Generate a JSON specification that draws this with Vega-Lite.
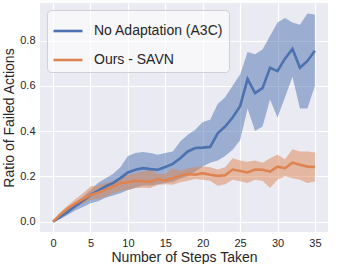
{
  "$schema": "https://vega.github.io/schema/vega-lite/v6.json",
  "width": 288,
  "height": 229,
  "autosize": {"type": "none"},
  "padding": {"left": 40, "top": 3, "right": 17, "bottom": 32},
  "background": "white",
  "config": {
    "font": "Liberation Sans",
    "view": {"fill": "#EAEAF2", "stroke": null},
    "axis": {
      "domain": false,
      "ticks": false,
      "grid": true,
      "gridColor": "white",
      "gridWidth": 1.2,
      "labelFont": "Liberation Sans",
      "labelFontSize": 11,
      "labelColor": "#262626",
      "titleFont": "Liberation Sans",
      "titleFontSize": 14,
      "titleFontWeight": "normal",
      "titleColor": "#262626",
      "labelPadding": 5
    },
    "legend": {
      "labelFont": "Liberation Sans",
      "labelFontSize": 14,
      "labelColor": "#262626"
    }
  },
  "data": {
    "values": [
      {"step": 0, "series": "No Adaptation (A3C)", "mean": 0, "lo": 0, "hi": 0},
      {"step": 1, "series": "No Adaptation (A3C)", "mean": 0.022, "lo": 0.012, "hi": 0.032},
      {"step": 2, "series": "No Adaptation (A3C)", "mean": 0.044, "lo": 0.03, "hi": 0.06},
      {"step": 3, "series": "No Adaptation (A3C)", "mean": 0.069, "lo": 0.05, "hi": 0.085},
      {"step": 4, "series": "No Adaptation (A3C)", "mean": 0.092, "lo": 0.065, "hi": 0.11},
      {"step": 5, "series": "No Adaptation (A3C)", "mean": 0.118, "lo": 0.081, "hi": 0.14},
      {"step": 6, "series": "No Adaptation (A3C)", "mean": 0.136, "lo": 0.09, "hi": 0.17},
      {"step": 7, "series": "No Adaptation (A3C)", "mean": 0.155, "lo": 0.105, "hi": 0.19},
      {"step": 8, "series": "No Adaptation (A3C)", "mean": 0.17, "lo": 0.115, "hi": 0.21},
      {"step": 9, "series": "No Adaptation (A3C)", "mean": 0.192, "lo": 0.125, "hi": 0.24},
      {"step": 10, "series": "No Adaptation (A3C)", "mean": 0.217, "lo": 0.14, "hi": 0.29},
      {"step": 11, "series": "No Adaptation (A3C)", "mean": 0.229, "lo": 0.15, "hi": 0.303},
      {"step": 12, "series": "No Adaptation (A3C)", "mean": 0.236, "lo": 0.16, "hi": 0.307},
      {"step": 13, "series": "No Adaptation (A3C)", "mean": 0.232, "lo": 0.16, "hi": 0.303},
      {"step": 14, "series": "No Adaptation (A3C)", "mean": 0.229, "lo": 0.165, "hi": 0.295},
      {"step": 15, "series": "No Adaptation (A3C)", "mean": 0.241, "lo": 0.17, "hi": 0.303},
      {"step": 16, "series": "No Adaptation (A3C)", "mean": 0.255, "lo": 0.175, "hi": 0.31},
      {"step": 17, "series": "No Adaptation (A3C)", "mean": 0.28, "lo": 0.19, "hi": 0.354},
      {"step": 18, "series": "No Adaptation (A3C)", "mean": 0.31, "lo": 0.2, "hi": 0.384},
      {"step": 19, "series": "No Adaptation (A3C)", "mean": 0.325, "lo": 0.22, "hi": 0.406},
      {"step": 20, "series": "No Adaptation (A3C)", "mean": 0.327, "lo": 0.243, "hi": 0.44},
      {"step": 21, "series": "No Adaptation (A3C)", "mean": 0.33, "lo": 0.26, "hi": 0.45},
      {"step": 22, "series": "No Adaptation (A3C)", "mean": 0.39, "lo": 0.27, "hi": 0.52},
      {"step": 23, "series": "No Adaptation (A3C)", "mean": 0.42, "lo": 0.29, "hi": 0.55},
      {"step": 24, "series": "No Adaptation (A3C)", "mean": 0.46, "lo": 0.317, "hi": 0.6},
      {"step": 25, "series": "No Adaptation (A3C)", "mean": 0.51, "lo": 0.36, "hi": 0.65},
      {"step": 26, "series": "No Adaptation (A3C)", "mean": 0.63, "lo": 0.5, "hi": 0.75},
      {"step": 27, "series": "No Adaptation (A3C)", "mean": 0.568, "lo": 0.4, "hi": 0.74},
      {"step": 28, "series": "No Adaptation (A3C)", "mean": 0.59, "lo": 0.42, "hi": 0.76},
      {"step": 29, "series": "No Adaptation (A3C)", "mean": 0.68, "lo": 0.54, "hi": 0.82},
      {"step": 30, "series": "No Adaptation (A3C)", "mean": 0.665, "lo": 0.46, "hi": 0.88},
      {"step": 31, "series": "No Adaptation (A3C)", "mean": 0.72, "lo": 0.55, "hi": 0.9},
      {"step": 32, "series": "No Adaptation (A3C)", "mean": 0.763, "lo": 0.64, "hi": 0.88},
      {"step": 33, "series": "No Adaptation (A3C)", "mean": 0.68, "lo": 0.5, "hi": 0.87},
      {"step": 34, "series": "No Adaptation (A3C)", "mean": 0.71, "lo": 0.5, "hi": 0.92},
      {"step": 35, "series": "No Adaptation (A3C)", "mean": 0.755, "lo": 0.6, "hi": 0.915},
      {"step": 0, "series": "Ours - SAVN", "mean": 0, "lo": 0, "hi": 0},
      {"step": 1, "series": "Ours - SAVN", "mean": 0.033, "lo": 0.025, "hi": 0.042},
      {"step": 2, "series": "Ours - SAVN", "mean": 0.059, "lo": 0.045, "hi": 0.072},
      {"step": 3, "series": "Ours - SAVN", "mean": 0.081, "lo": 0.065, "hi": 0.1},
      {"step": 4, "series": "Ours - SAVN", "mean": 0.099, "lo": 0.08, "hi": 0.125},
      {"step": 5, "series": "Ours - SAVN", "mean": 0.118, "lo": 0.096, "hi": 0.155},
      {"step": 6, "series": "Ours - SAVN", "mean": 0.128, "lo": 0.1, "hi": 0.16},
      {"step": 7, "series": "Ours - SAVN", "mean": 0.14, "lo": 0.11, "hi": 0.17},
      {"step": 8, "series": "Ours - SAVN", "mean": 0.155, "lo": 0.125, "hi": 0.18},
      {"step": 9, "series": "Ours - SAVN", "mean": 0.17, "lo": 0.135, "hi": 0.195},
      {"step": 10, "series": "Ours - SAVN", "mean": 0.174, "lo": 0.14, "hi": 0.207},
      {"step": 11, "series": "Ours - SAVN", "mean": 0.18, "lo": 0.148, "hi": 0.214},
      {"step": 12, "series": "Ours - SAVN", "mean": 0.178, "lo": 0.15, "hi": 0.221},
      {"step": 13, "series": "Ours - SAVN", "mean": 0.175, "lo": 0.148, "hi": 0.229},
      {"step": 14, "series": "Ours - SAVN", "mean": 0.188, "lo": 0.162, "hi": 0.21},
      {"step": 15, "series": "Ours - SAVN", "mean": 0.182, "lo": 0.165, "hi": 0.21},
      {"step": 16, "series": "Ours - SAVN", "mean": 0.192, "lo": 0.163, "hi": 0.236},
      {"step": 17, "series": "Ours - SAVN", "mean": 0.203, "lo": 0.174, "hi": 0.225},
      {"step": 18, "series": "Ours - SAVN", "mean": 0.211, "lo": 0.18, "hi": 0.236},
      {"step": 19, "series": "Ours - SAVN", "mean": 0.207, "lo": 0.188, "hi": 0.24},
      {"step": 20, "series": "Ours - SAVN", "mean": 0.214, "lo": 0.185, "hi": 0.243},
      {"step": 21, "series": "Ours - SAVN", "mean": 0.207, "lo": 0.18, "hi": 0.24},
      {"step": 22, "series": "Ours - SAVN", "mean": 0.202, "lo": 0.158, "hi": 0.23},
      {"step": 23, "series": "Ours - SAVN", "mean": 0.205, "lo": 0.165, "hi": 0.24},
      {"step": 24, "series": "Ours - SAVN", "mean": 0.23, "lo": 0.185, "hi": 0.28},
      {"step": 25, "series": "Ours - SAVN", "mean": 0.224, "lo": 0.178, "hi": 0.27},
      {"step": 26, "series": "Ours - SAVN", "mean": 0.217, "lo": 0.17, "hi": 0.265},
      {"step": 27, "series": "Ours - SAVN", "mean": 0.23, "lo": 0.185, "hi": 0.27},
      {"step": 28, "series": "Ours - SAVN", "mean": 0.229, "lo": 0.18, "hi": 0.26},
      {"step": 29, "series": "Ours - SAVN", "mean": 0.221, "lo": 0.148, "hi": 0.28},
      {"step": 30, "series": "Ours - SAVN", "mean": 0.243, "lo": 0.185, "hi": 0.295},
      {"step": 31, "series": "Ours - SAVN", "mean": 0.236, "lo": 0.2, "hi": 0.275},
      {"step": 32, "series": "Ours - SAVN", "mean": 0.26, "lo": 0.192, "hi": 0.32},
      {"step": 33, "series": "Ours - SAVN", "mean": 0.251, "lo": 0.185, "hi": 0.31},
      {"step": 34, "series": "Ours - SAVN", "mean": 0.243, "lo": 0.17, "hi": 0.31},
      {"step": 35, "series": "Ours - SAVN", "mean": 0.241, "lo": 0.177, "hi": 0.305}
    ]
  },
  "encoding": {
    "x": {
      "field": "step",
      "type": "quantitative",
      "scale": {"domain": [-1.75, 36.75], "nice": false, "zero": false},
      "axis": {"values": [0, 5, 10, 15, 20, 25, 30, 35], "title": "Number of Steps Taken", "titlePadding": 2}
    },
    "color": {
      "field": "series",
      "type": "nominal",
      "scale": {"domain": ["No Adaptation (A3C)", "Ours - SAVN"], "range": ["#4C72B0", "#DD8452"]},
      "legend": {
        "title": null,
        "orient": "top-left",
        "offset": 7,
        "symbolType": "stroke",
        "symbolSize": 841,
        "symbolStrokeWidth": 2.6,
        "symbolOpacity": 1,
        "labelOffset": 10,
        "rowPadding": 6,
        "padding": 5,
        "fillColor": "rgba(255,255,255,0.6)",
        "strokeColor": "#d0d0d8",
        "cornerRadius": 4
      }
    }
  },
  "layer": [
    {
      "mark": {"type": "area", "fillOpacity": 0.5},
      "encoding": {
        "y": {
          "field": "lo",
          "type": "quantitative",
          "scale": {"domain": [-0.046, 0.966], "nice": false, "zero": false},
          "axis": {"values": [0, 0.2, 0.4, 0.6, 0.8], "format": ".1f", "title": "Ratio of Failed Actions", "titlePadding": 3}
        },
        "y2": {"field": "hi"}
      }
    },
    {
      "mark": {"type": "line", "strokeWidth": 2.6},
      "encoding": {
        "y": {"field": "mean", "type": "quantitative"}
      }
    }
  ]
}
